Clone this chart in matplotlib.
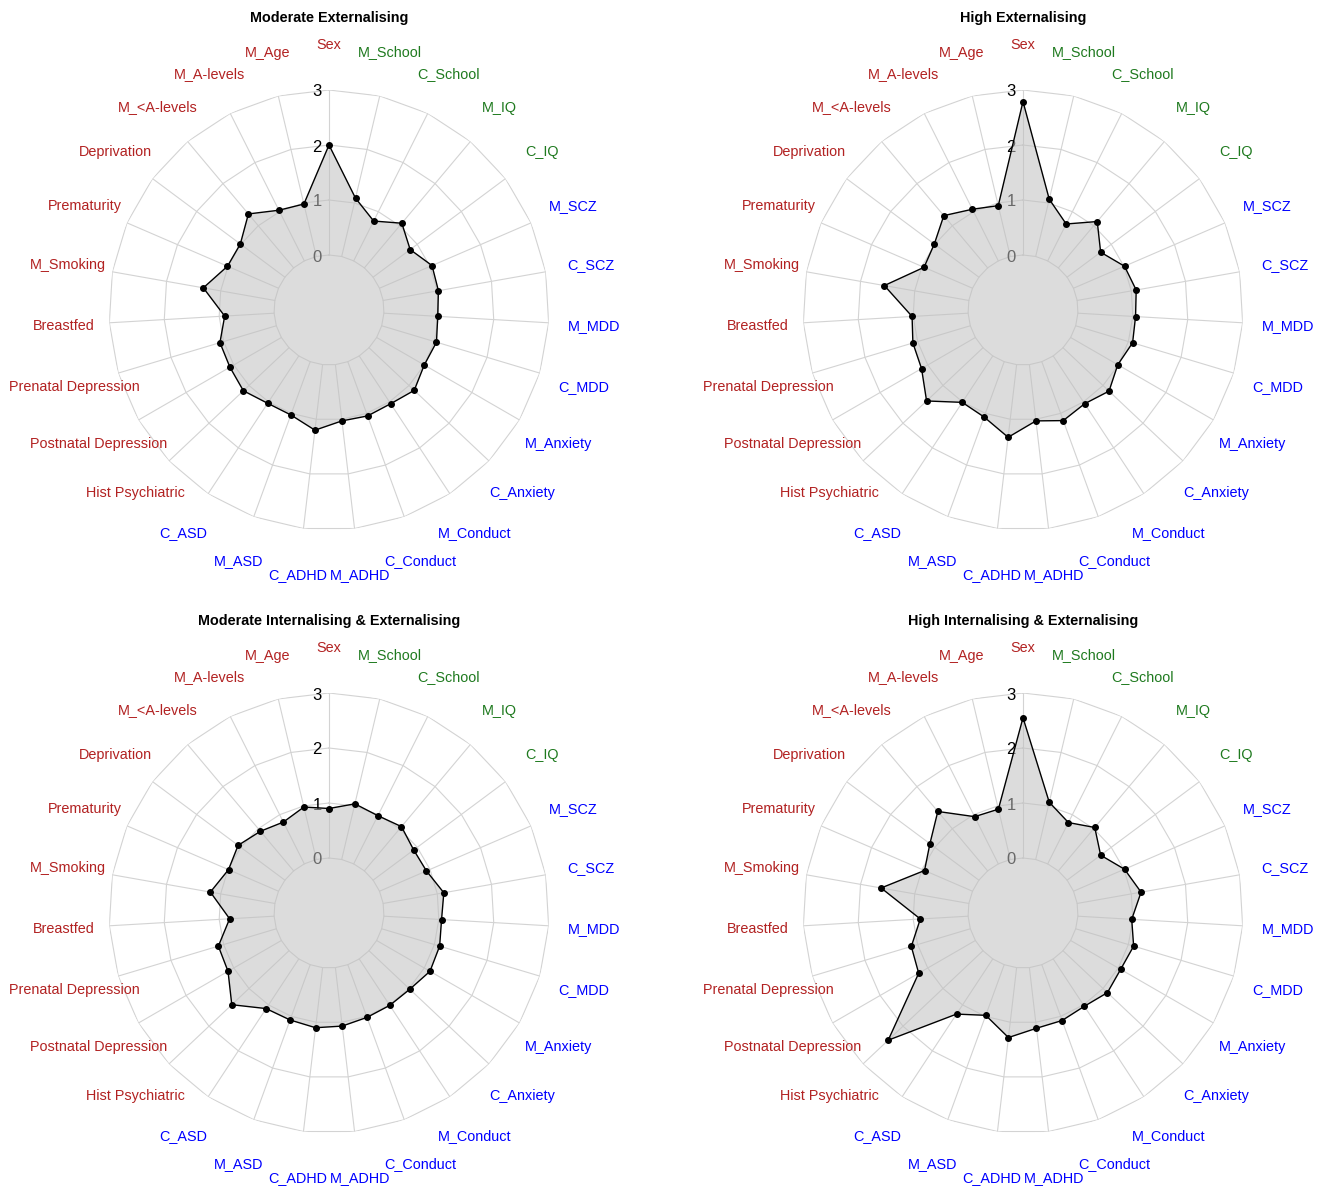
import numpy as np
import matplotlib
matplotlib.use("Agg")
import matplotlib.pyplot as plt
from matplotlib import transforms

plt.rcParams['font.family'] = ['Liberation Sans', 'DejaVu Sans']

# Variables around the radar, clockwise from the top
categories = ["Sex", "M_School", "C_School", "M_IQ", "C_IQ", "M_SCZ", "C_SCZ",
              "M_MDD", "C_MDD", "M_Anxiety", "C_Anxiety", "M_Conduct", "C_Conduct",
              "M_ADHD", "C_ADHD", "M_ASD", "C_ASD", "Hist Psychiatric",
              "Postnatal Depression", "Prenatal Depression", "Breastfed",
              "M_Smoking", "Prematurity", "Deprivation", "M_<A-levels",
              "M_A-levels", "M_Age"]

# Colour group of each variable label
groups = ["social", "cog", "cog", "cog", "cog", "psy", "psy", "psy", "psy", "psy",
          "psy", "psy", "psy", "psy", "psy", "psy", "psy", "social", "social",
          "social", "social", "social", "social", "social", "social", "social",
          "social"]
group_colors = {"social": "#B22222", "cog": "#1f7a1f", "psy": "#0000FF"}

titles = ["Moderate Externalising", "High Externalising",
          "Moderate Internalising & Externalising",
          "High Internalising & Externalising"]

mod_ext = [2.00, 1.09, 0.81, 1.06, 0.84, 1.04, 1.02, 0.98, 1.04, 1.00, 1.13, 1.04,
           1.05, 1.03, 1.20, 1.03, 1.03, 1.14, 1.08, 1.07, 0.90, 1.32, 1.01, 1.01,
           1.28, 1.03, 0.98]
high_ext = [2.79, 1.07, 0.75, 1.10, 0.76, 1.01, 1.09, 1.05, 1.08, 0.99, 1.15, 1.04,
            1.14, 1.03, 1.33, 1.07, 1.01, 1.41, 1.13, 1.09, 1.02, 1.56, 0.96, 1.01,
            1.24, 1.05, 0.95]
mod_int_ext = [0.90, 1.04, 0.98, 1.05, 0.92, 0.93, 1.12, 1.05, 1.10, 1.12, 1.02, 1.01,
               1.02, 1.07, 1.10, 1.07, 1.08, 1.43, 1.12, 1.10, 0.81, 1.19, 0.99, 1.06,
               0.94, 0.85, 0.98]
high_int_ext = [2.55, 1.07, 0.84, 1.03, 0.76, 1.01, 1.18, 0.98, 1.10, 1.05, 1.11, 1.03,
                1.08, 1.11, 1.28, 0.98, 1.20, 2.37, 1.19, 1.12, 0.87, 1.62, 0.95, 1.11,
                1.41, 0.96, 0.94]

series = [mod_ext, high_ext, mod_int_ext, high_int_ext]
levels = [0, 1, 2, 3]

W, H = 1327, 1186
fig = plt.figure(figsize=(W / 100, H / 100), dpi=100)
fig.patch.set_facecolor("white")

centers = [(329, 310), (1023, 310), (329, 913), (1023, 913)]
R = 220  # pixel radius of the outermost level

n = len(categories)
theta = np.linspace(0, 2 * np.pi, n, endpoint=False)
theta_c = np.append(theta, theta[0])

grid_col = "#d3d3d3"

for (cx, cy), title, vals in zip(centers, titles, series):
    ax = fig.add_axes([(cx - R) / W, 1 - (cy + R) / H, 2 * R / W, 2 * R / H],
                      projection="polar")
    ax.set_theta_zero_location("N")
    ax.set_theta_direction(-1)
    ax.set_ylim(-1, 3)
    ax.grid(False)
    ax.set_xticks([])
    ax.set_yticks([])
    ax.spines["polar"].set_visible(False)
    ax.patch.set_alpha(0)

    # polygonal rings and spokes
    for lv in levels:
        ax.plot(theta_c, [lv] * (n + 1), color=grid_col, lw=0.8, zorder=1)
    for t in theta:
        ax.plot([t, t], [levels[0], levels[-1]], color=grid_col, lw=0.8, zorder=1)

    # radial level labels, just left of the vertical spoke
    off = transforms.offset_copy(ax.transData, fig=fig, x=-12, y=-2, units="dots")
    for lv in levels:
        ax.text(0, lv, str(lv), transform=off, ha="center", va="center",
                fontsize=12, color="black", zorder=2)

    v = np.append(vals, vals[0])
    ax.fill(theta_c, v, color="#c0c0c0", alpha=0.55, lw=0, zorder=3)
    ax.plot(theta_c, v, color="black", lw=1.0, zorder=4)
    ax.plot(theta, vals, "o", color="black", ms=4, zorder=5)

    lab_off = transforms.offset_copy(ax.transData, fig=fig, x=0, y=-1, units="dots")
    for t, lab, g in zip(theta, categories, groups):
        ax.text(t, 3.83, lab, transform=lab_off, ha="center", va="center",
                fontsize=10.4, color=group_colors[g], clip_on=False)

    fig.text(cx / W, 1 - (cy - 292) / H, title, ha="center", va="center",
             fontsize=10.4, fontweight="bold", color="black")

fig.savefig("out.png", dpi=100, facecolor="white")
